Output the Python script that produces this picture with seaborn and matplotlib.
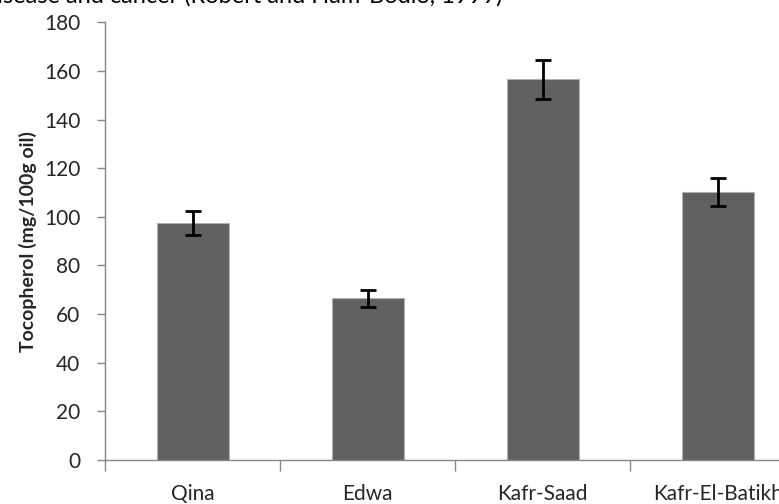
import numpy as np
import pandas as pd
import seaborn as sns
import matplotlib.pyplot as plt

# Data
regions = ['Qina', 'Edwa', 'Kafr-Saad', 'Kafr-El-Batikh']
tocopherol = [97.5, 66.6, 156.5, 110.2]
errors = [5.0, 3.5, 8.0, 5.8]
yticks = [0, 20, 40, 60, 80, 100, 120, 140, 160, 180]

df = pd.DataFrame({'region': regions, 'tocopherol': tocopherol})

sns.set_theme(style='white')
plt.rcParams['font.family'] = ['Lato', 'DejaVu Sans']

fig = plt.figure(figsize=(7.79, 5.04), dpi=100)
ax = fig.add_axes([0.135, 0.087, 0.899, 0.869])

sns.barplot(data=df, x='region', y='tocopherol', color='#606060', width=0.41,
            edgecolor='#b0b0b0', linewidth=0.8, saturation=1, errorbar=None, ax=ax)
ax.errorbar(np.arange(len(regions)), df['tocopherol'], yerr=errors, fmt='none',
            ecolor='black', elinewidth=2, capsize=6, capthick=2)

ax.set_xlim(-0.5, len(regions) - 0.5)
ax.set_ylim(0, 180)
ax.set_yticks(yticks)
ax.set_yticklabels([str(t) for t in yticks], fontsize=15)
ax.set_xticks(np.arange(len(regions)))
ax.set_xticklabels(regions, fontsize=15)
ax.set_xticks(np.arange(len(regions) + 1) - 0.5, minor=True)
ax.tick_params(axis='x', which='major', length=0, pad=17)
ax.tick_params(axis='x', which='minor', length=8, color='#868686', width=1, bottom=True)
ax.tick_params(axis='y', length=6, color='#868686', width=1, left=True, pad=12)

ax.set_xlabel('')
ax.set_ylabel('Tocopherol (mg/100g oil)', fontsize=14, fontweight='bold', labelpad=5)

for side in ['top', 'right']:
    ax.spines[side].set_visible(False)
for side in ['left', 'bottom']:
    ax.spines[side].set_color('#868686')
    ax.spines[side].set_linewidth(1)

# partially cut caption line at the very top
fig.text(-0.02, 1.008, 'disease and cancer (Robert and Ham-Bodlo, 1999)',
         fontsize=17, va='center', ha='left', color='black')

fig.savefig('out.png', dpi=100)
